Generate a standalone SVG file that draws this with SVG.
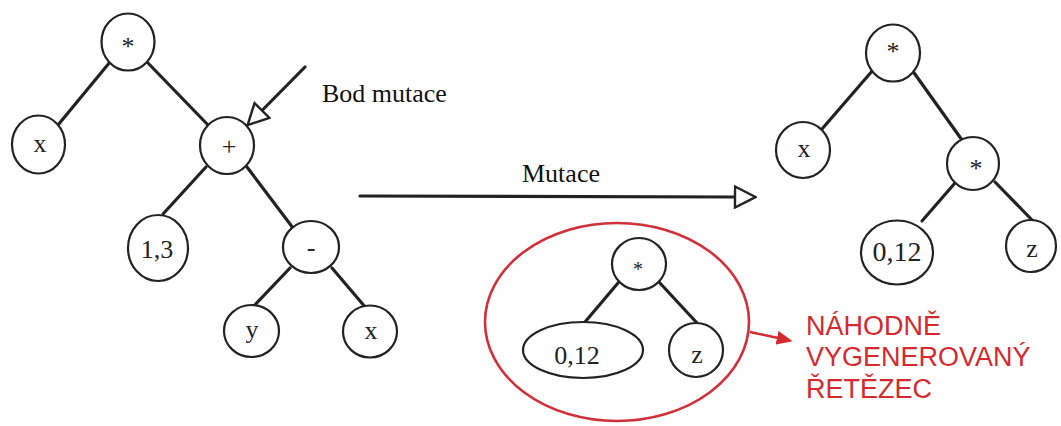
<svg xmlns="http://www.w3.org/2000/svg" width="1061" height="426" viewBox="0 0 1061 426">
<style>
.n{fill:#fff;stroke:#222;stroke-width:2.2}
.e{stroke:#222;stroke-width:3.2;stroke-linecap:round;fill:none}
.t{font-family:"Liberation Serif","Times New Roman",serif;font-size:26px;fill:#222;text-anchor:middle}
.lbl{font-family:"Liberation Serif","Times New Roman",serif;font-size:26px;fill:#111}
.red{font-family:"Liberation Sans",Arial,sans-serif;font-size:27px;fill:#d42a2f}
</style>
<defs>
<marker id="open" viewBox="0 0 24 24" refX="1.5" refY="12" markerWidth="24" markerHeight="24" markerUnits="userSpaceOnUse" orient="auto">
<path d="M1.5,1.5 L22,12 L1.5,22.5 Z" fill="#fff" stroke="#222" stroke-width="2.4" stroke-linejoin="miter"/>
</marker>
<marker id="redhead" viewBox="0 0 16 14" refX="1" refY="7" markerWidth="16" markerHeight="14" markerUnits="userSpaceOnUse" orient="auto">
<path d="M0,0 L16,7 L0,14 Z" fill="#d42a2f"/>
</marker>
</defs>
<rect width="1061" height="426" fill="#fff"/>
<g id="connectors">
<line class="e" x1="110" y1="62" x2="58" y2="125"/>
<line class="e" x1="148" y1="63" x2="208" y2="125"/>
<line class="e" x1="206" y1="167" x2="163" y2="214"/>
<line class="e" x1="247" y1="167" x2="293" y2="228"/>
<line class="e" x1="290" y1="268" x2="253" y2="307"/>
<line class="e" x1="332" y1="268" x2="366" y2="308"/>
<line class="e" x1="305" y1="67" x2="262" y2="110.5" marker-end="url(#open)"/>
<line class="e" x1="360" y1="196" x2="735" y2="197" marker-end="url(#open)"/>
<line class="e" x1="873" y1="70" x2="822" y2="129"/>
<line class="e" x1="912" y1="70" x2="962" y2="140"/>
<line class="e" x1="955" y1="183" x2="922" y2="221"/>
<line class="e" x1="995" y1="182" x2="1033" y2="221"/>
<line class="e" x1="618" y1="283" x2="585" y2="322" stroke-width="2.6"/>
<line class="e" x1="659" y1="282" x2="697" y2="323" stroke-width="2.6"/>
<line x1="750" y1="332" x2="778" y2="338" stroke="#d42a2f" stroke-width="2.5" marker-end="url(#redhead)"/>
</g>
<g id="left-root"><ellipse class="n" cx="128" cy="42" rx="26.5" ry="28.5"/><text class="t" x="128" y="55">*</text></g>
<g id="left-x"><ellipse class="n" cx="38.5" cy="144.5" rx="26.5" ry="29"/><text class="t" x="40" y="152">x</text></g>
<g id="left-plus"><ellipse class="n" cx="227" cy="145.5" rx="27" ry="28.5"/><text class="t" x="229" y="155">+</text></g>
<g id="left-13"><ellipse class="n" cx="158" cy="248" rx="30" ry="33"/><text class="t" x="157" y="258">1,3</text></g>
<g id="left-minus"><ellipse class="n" cx="311" cy="247" rx="28" ry="26"/><text class="t" x="311" y="256">-</text></g>
<g id="left-y"><ellipse class="n" cx="251.5" cy="331" rx="27.5" ry="26"/><text class="t" x="252" y="338">y</text></g>
<g id="left-x2"><ellipse class="n" cx="370" cy="331.5" rx="27" ry="26"/><text class="t" x="371" y="339">x</text></g>
<g id="label-bod"><text class="lbl" x="322" y="102">Bod mutace</text></g>
<g id="label-mutace"><text class="lbl" x="522" y="182">Mutace</text></g>
<g id="random-subtree">
<ellipse cx="617" cy="322" rx="132" ry="99" fill="none" stroke="#d0303a" stroke-width="2.6"/>
<g id="sub-star"><ellipse class="n" cx="639" cy="264" rx="27" ry="26"/><text class="t" x="638" y="276" style="font-size:20px">*</text></g>
<g id="sub-012"><ellipse class="n" cx="583" cy="350" rx="60" ry="28"/><text class="t" x="577" y="364">0,12</text></g>
<g id="sub-z"><ellipse class="n" cx="696" cy="350" rx="27" ry="27"/><text class="t" x="697" y="363">z</text></g>
</g>
<g id="red-label">
<text class="red" x="806" y="335">NÁHODNĚ</text>
<text class="red" x="806" y="366">VYGENEROVANÝ</text>
<text class="red" x="806" y="398">ŘETĚZEC</text>
</g>
<g id="right-root"><ellipse class="n" cx="893" cy="53" rx="27" ry="28.5"/><text class="t" x="893" y="60">*</text></g>
<g id="right-x"><ellipse class="n" cx="803" cy="150" rx="27" ry="28"/><text class="t" x="804" y="157">x</text></g>
<g id="right-star"><ellipse class="n" cx="973" cy="163.5" rx="26" ry="26.5"/><text class="t" x="976" y="177">*</text></g>
<g id="right-012"><ellipse class="n" cx="897" cy="252.5" rx="36" ry="32"/><text class="t" x="897" y="261" style="font-size:28px">0,12</text></g>
<g id="right-z"><ellipse class="n" cx="1031" cy="246" rx="25" ry="26"/><text class="t" x="1032" y="257">z</text></g>
</svg>
